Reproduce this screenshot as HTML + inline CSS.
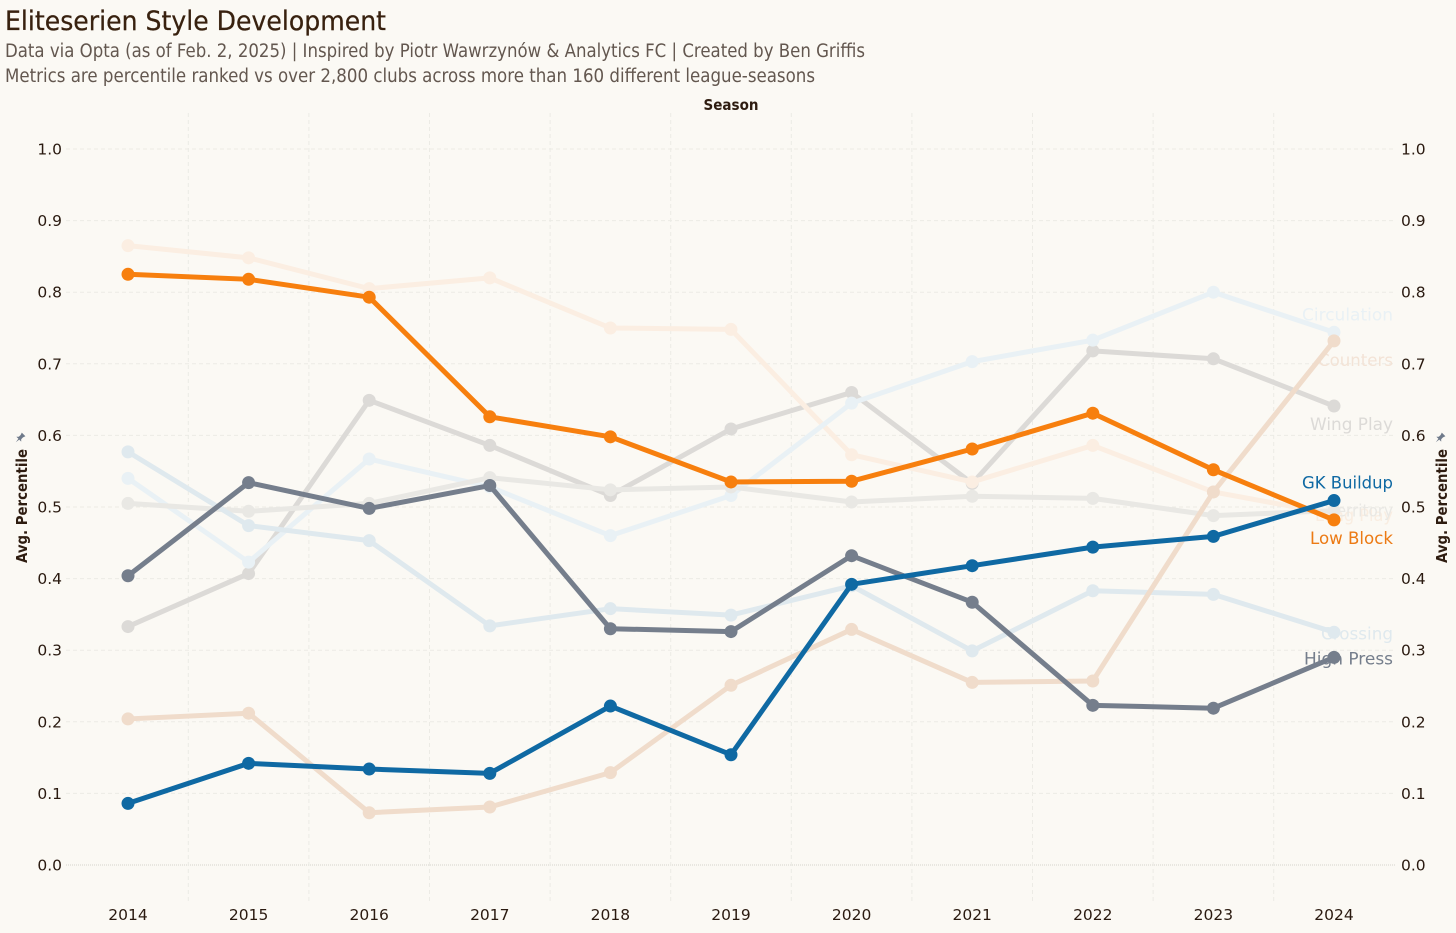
<!DOCTYPE html>
<html lang="en">
<head>
<meta charset="utf-8">
<title>Eliteserien Style Development</title>
<style>
  html, body { margin: 0; padding: 0; background: #fbf9f4; }
  body { width: 1456px; height: 933px; overflow: hidden; }
  svg { display: block; font-family: "DejaVu Sans", "Liberation Sans", sans-serif; }
</style>
</head>
<body>
<svg id="chart" width="1456" height="933" viewBox="0 0 1456 933" xmlns="http://www.w3.org/2000/svg">
  <rect x="0" y="0" width="1456" height="933" fill="#fbf9f4"/>
  <text x="5" y="30" font-size="27" fill="#38210f" stroke="#38210f" stroke-width="0.25" textLength="381" lengthAdjust="spacingAndGlyphs">Eliteserien Style Development</text>
  <text x="5" y="57" font-size="18.5" fill="#63574f" textLength="860" lengthAdjust="spacingAndGlyphs">Data via Opta (as of Feb. 2, 2025) | Inspired by Piotr Wawrzynów &amp; Analytics FC | Created by Ben Griffis</text>
  <text x="5" y="82" font-size="18.5" fill="#63574f" textLength="810" lengthAdjust="spacingAndGlyphs">Metrics are percentile ranked vs over 2,800 clubs across more than 160 different league-seasons</text>
  <text x="731" y="110" font-size="15.5" font-weight="700" fill="#2e1c10" text-anchor="middle" textLength="55" lengthAdjust="spacingAndGlyphs">Season</text>
  <g id="grid"></g>
  <g id="yticks"></g>
  <g id="xticks"></g>
  <g id="labels"></g>
  <g id="series"></g>
  <g>
    <text transform="translate(27,563) rotate(-90)" font-size="15.5" font-weight="700" fill="#2e1c10" textLength="114" lengthAdjust="spacingAndGlyphs">Avg. Percentile</text>
    <polygon transform="translate(20,438) rotate(45) scale(0.85)" points="-3,-6 3,-6 2,-3 2,0 4,2 0.7,2 0,7 -0.7,2 -4,2 -2,0 -2,-3" fill="#6f7a8a"/>
  </g>
  <g>
    <text transform="translate(1447,563) rotate(-90)" font-size="15.5" font-weight="700" fill="#2e1c10" textLength="114" lengthAdjust="spacingAndGlyphs">Avg. Percentile</text>
    <polygon transform="translate(1440,438) rotate(45) scale(0.85)" points="-3,-6 3,-6 2,-3 2,0 4,2 0.7,2 0,7 -0.7,2 -4,2 -2,0 -2,-3" fill="#6f7a8a"/>
  </g>
</svg>
<script>
// Chart data
const seasons = [2014, 2015, 2016, 2017, 2018, 2019, 2020, 2021, 2022, 2023, 2024];
const yTickValues = [0.0, 0.1, 0.2, 0.3, 0.4, 0.5, 0.6, 0.7, 0.8, 0.9, 1.0];
const yTickLabels = ["0.0", "0.1", "0.2", "0.3", "0.4", "0.5", "0.6", "0.7", "0.8", "0.9", "1.0"];

const wingPlay    = [0.333, 0.407, 0.649, 0.586, 0.516, 0.609, 0.660, 0.533, 0.718, 0.707, 0.641];
const circulation = [0.540, 0.423, 0.567, 0.528, 0.460, 0.516, 0.645, 0.703, 0.733, 0.800, 0.744];
const crossing    = [0.577, 0.474, 0.453, 0.334, 0.358, 0.349, 0.390, 0.299, 0.383, 0.378, 0.325];
const longPlay    = [0.865, 0.848, 0.805, 0.820, 0.750, 0.748, 0.573, 0.535, 0.586, 0.521, 0.490];
const territory   = [0.505, 0.494, 0.505, 0.541, 0.524, 0.528, 0.507, 0.515, 0.512, 0.488, 0.495];
const counters    = [0.204, 0.212, 0.073, 0.081, 0.129, 0.251, 0.329, 0.255, 0.257, 0.521, 0.732];
const highPress   = [0.404, 0.534, 0.498, 0.530, 0.330, 0.326, 0.432, 0.367, 0.223, 0.219, 0.290];
const lowBlock    = [0.825, 0.818, 0.793, 0.626, 0.598, 0.535, 0.536, 0.581, 0.631, 0.552, 0.482];
const gkBuildup   = [0.086, 0.142, 0.134, 0.128, 0.222, 0.154, 0.392, 0.418, 0.444, 0.459, 0.509];

// Axis functions
const SVG_NS = "http://www.w3.org/2000/svg";
function xScale(season) { return 128 + (season - 2014) * 120.6; }
function yScale(value) { return 865 - value * 716; }

const gridGroup = document.getElementById("grid");
const yTickGroup = document.getElementById("yticks");
const xTickGroup = document.getElementById("xticks");
const labelGroup = document.getElementById("labels");
const seriesGroup = document.getElementById("series");

// Horizontal gridlines and y tick labels
yTickValues.forEach(function (v, i) {
  const y = yScale(v);
  const line = document.createElementNS(SVG_NS, "line");
  
  
  line.setAttribute("x1", 66);
  line.setAttribute("x2", 1396);
  line.setAttribute("y1", y);
  line.setAttribute("y2", y);
  line.setAttribute("stroke", v === 0 ? "#d5d3cd" : "#ecebe5");
  line.setAttribute("stroke-width", 1);
  line.setAttribute("stroke-dasharray", v === 0 ? "1 1" : "4 3");
  gridGroup.appendChild(line);

  const left = document.createElementNS(SVG_NS, "text");
  
  
  left.setAttribute("x", 62);
  left.setAttribute("y", y + 5.5);
  left.setAttribute("text-anchor", "end");
  left.setAttribute("font-size", 15.5);
  left.setAttribute("fill", "#2a1a10");
  left.textContent = yTickLabels[i];
  yTickGroup.appendChild(left);

  const right = document.createElementNS(SVG_NS, "text");
  
  
  right.setAttribute("x", 1401);
  right.setAttribute("y", y + 5.5);
  right.setAttribute("font-size", 15.5);
  right.setAttribute("fill", "#2a1a10");
  right.textContent = yTickLabels[i];
  yTickGroup.appendChild(right);
});

// Vertical gridlines and x tick labels
seasons.forEach(function (s, i) {
  const x = xScale(s);
  if (i < seasons.length - 1) {
    const line = document.createElementNS(SVG_NS, "line");
    
    
    line.setAttribute("x1", x + 60.3);
    line.setAttribute("x2", x + 60.3);
    line.setAttribute("y1", 113);
    line.setAttribute("y2", 901);
    line.setAttribute("stroke", "#ecebe5");
    line.setAttribute("stroke-width", 1);
    line.setAttribute("stroke-dasharray", "4 3");
    gridGroup.appendChild(line);
  }
  const label = document.createElementNS(SVG_NS, "text");
  
  
  label.setAttribute("x", x);
  label.setAttribute("y", 920);
  label.setAttribute("text-anchor", "middle");
  label.setAttribute("font-size", 15.5);
  label.setAttribute("fill", "#2a1a10");
  label.textContent = s;
  xTickGroup.appendChild(label);
});

// Draw one series with its end label
function drawSeries(name, slug, values, color, strokeWidth, radius, labelColor, labelOffset, labelWidth) {
  const g = document.createElementNS(SVG_NS, "g");
  
  

  const pts = values.map(function (v, i) { return xScale(seasons[i]) + "," + yScale(v); }).join(" ");
  const line = document.createElementNS(SVG_NS, "polyline");
  
  
  line.setAttribute("points", pts);
  line.setAttribute("fill", "none");
  line.setAttribute("stroke", color);
  line.setAttribute("stroke-width", strokeWidth);
  line.setAttribute("stroke-linejoin", "round");
  g.appendChild(line);

  values.forEach(function (v, i) {
    const dot = document.createElementNS(SVG_NS, "circle");
    
    
    dot.setAttribute("cx", xScale(seasons[i]));
    dot.setAttribute("cy", yScale(v));
    dot.setAttribute("r", radius);
    dot.setAttribute("fill", color);
    g.appendChild(dot);
  });
  seriesGroup.appendChild(g);

  const label = document.createElementNS(SVG_NS, "text");
  
  
  label.setAttribute("x", 1393);
  label.setAttribute("y", yScale(values[values.length - 1]) + labelOffset + 6);
  label.setAttribute("text-anchor", "end");
  label.setAttribute("font-size", 16.5);
  label.setAttribute("fill", labelColor);
  label.setAttribute("textLength", labelWidth);
  label.setAttribute("lengthAdjust", "spacingAndGlyphs");
  label.textContent = name;
  labelGroup.appendChild(label);
}

drawSeries("Wing Play", "wing-play", wingPlay, "#dcdad7", 5, 6.5, "#dcdad7", 18, 83);
drawSeries("Long Play", "long-play", longPlay, "#fbeee2", 5, 6.5, "#f9ede1", 1, 78);
drawSeries("Circulation", "circulation", circulation, "#e9f1f5", 5, 6.5, "#e9f1f5", -18, 91);
drawSeries("Territory", "territory", territory, "#e9e8e4", 5, 6.5, "#e9e8e4", 0, 63);
drawSeries("Crossing", "crossing", crossing, "#dfe9ee", 5, 6.5, "#dfe9ee", 1, 72);
drawSeries("Counters", "counters", counters, "#f0dccb", 5, 6.5, "#f3e3d6", 19, 75);
drawSeries("High Press", "high-press", highPress, "#757e8c", 5, 6.5, "#757e8c", 1, 89);
drawSeries("Low Block", "low-block", lowBlock, "#f77f0e", 5, 6.5, "#ec7a14", 18, 83);
drawSeries("GK Buildup", "gk-buildup", gkBuildup, "#0f69a3", 5, 6.5, "#0f69a3", -18, 91);
</script>
</body>
</html>
